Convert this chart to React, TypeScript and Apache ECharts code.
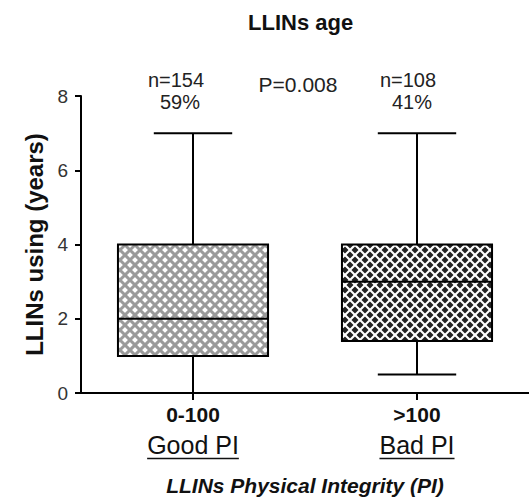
import React, { useEffect, useRef } from 'react';
import * as echarts from 'echarts';

const categories = ['0-100', '>100'];
const groupNames = ['Good PI', 'Bad PI'];
const whiskerLow = [0, 0.5];
const q1 = [1, 1.4];
const medians = [2, 3];
const q3 = [4, 4];
const whiskerHigh = [7, 7];
const countLabels = ['n=154', 'n=108'];
const shareLabels = ['59%', '41%'];
const pValueLabel = 'P=0.008';

const FONT = '"Liberation Sans", Arial, "DejaVu Sans", sans-serif';

const hatchStyles = [
  { bg: '#ffffff', line: '#9a9a9a', width: 3 },
  { bg: '#222222', line: '#ffffff', width: 2.1 },
];

export default function App() {
  const ref = useRef<HTMLDivElement>(null);

  useEffect(() => {
    if (!ref.current) return;
    const chart = echarts.init(ref.current, undefined, { renderer: 'svg' });

    const data = categories.map((_, i) => [i, whiskerLow[i], q1[i], medians[i], q3[i], whiskerHigh[i]]);

    const renderItem = (params: any, api: any) => {
      const idx = api.value(0);
      const lo = api.coord([idx, api.value(1)]);
      const b1 = api.coord([idx, api.value(2)]);
      const med = api.coord([idx, api.value(3)]);
      const b3 = api.coord([idx, api.value(4)]);
      const hi = api.coord([idx, api.value(5)]);
      const band = api.size([1, 0])[0];
      const bw = band * 0.67;
      const cw = band * 0.35;
      const cx = lo[0];
      const x0 = cx - bw / 2;
      const x1 = cx + bw / 2;
      const yTop = b3[1];
      const yBot = b1[1];
      const hs = hatchStyles[idx];
      const black = { stroke: '#000', lineWidth: 2 };
      const children: any[] = [];
      children.push({ type: 'rect', shape: { x: x0, y: yTop, width: bw, height: yBot - yTop }, style: { fill: hs.bg } });
      const step = 10;
      const hx0 = x0 + 0.5, hx1 = x1 - 0.5, hy0 = yTop + 0.5, hy1 = yBot - 0.5;
      for (let c = Math.floor((hy0 - hx1) / step) * step; c <= hy1 - hx0; c += step) {
        const xa = Math.max(hx0, hy0 - c);
        const xb = Math.min(hx1, hy1 - c);
        if (xb > xa) children.push({ type: 'line', shape: { x1: xa, y1: xa + c, x2: xb, y2: xb + c }, style: { stroke: hs.line, lineWidth: hs.width } });
      }
      for (let c = Math.floor((hy0 + hx0) / step) * step; c <= hy1 + hx1; c += step) {
        const xa = Math.max(hx0, c - hy1);
        const xb = Math.min(hx1, c - hy0);
        if (xb > xa) children.push({ type: 'line', shape: { x1: xa, y1: c - xa, x2: xb, y2: c - xb }, style: { stroke: hs.line, lineWidth: hs.width } });
      }
      children.push({ type: 'rect', shape: { x: x0, y: yTop, width: bw, height: yBot - yTop }, style: { fill: 'none', ...black } });
      children.push({ type: 'line', shape: { x1: x0, y1: med[1], x2: x1, y2: med[1] }, style: black });
      children.push({ type: 'line', shape: { x1: cx, y1: yTop, x2: cx, y2: hi[1] }, style: black });
      children.push({ type: 'line', shape: { x1: cx, y1: yBot, x2: cx, y2: lo[1] }, style: black });
      children.push({ type: 'line', shape: { x1: cx - cw / 2, y1: hi[1], x2: cx + cw / 2, y2: hi[1] }, style: black });
      children.push({ type: 'line', shape: { x1: cx - cw / 2, y1: lo[1], x2: cx + cw / 2, y2: lo[1] }, style: black });
      return { type: 'group', children };
    };

    const txt = (text: string, x: number, y: number, size: number) => ({
      type: 'text', x, y,
      style: { text, fontSize: size, fontFamily: FONT, fill: '#222', align: 'center', verticalAlign: 'middle', textAlign: 'center', textVerticalAlign: 'middle' },
    });

    const annotations: any[] = [
      txt(countLabels[0], 176, 80, 20),
      txt(shareLabels[0], 180, 102, 20),
      txt(countLabels[1], 408, 80, 20),
      txt(shareLabels[1], 412, 102, 20),
      txt(pValueLabel, 298, 84, 21),
    ];

    chart.setOption({
      animation: false,
      title: {
        text: 'LLINs age',
        left: 243,
        top: 6,
        textStyle: { fontSize: 22, fontWeight: 'bold', fontFamily: FONT, color: '#111' },
      },
      grid: { left: 81, right: 0, top: 96, bottom: 105, containLabel: false },
      xAxis: {
        type: 'category',
        data: categories,
        name: 'LLINs Physical Integrity (PI)',
        nameLocation: 'middle',
        nameGap: 82,
        nameTextStyle: { fontSize: 21, fontWeight: 'bold', fontStyle: 'italic', fontFamily: FONT, color: '#111', verticalAlign: 'top' },
        axisLine: { show: true, lineStyle: { color: '#000', width: 2 } },
        axisTick: { show: true, alignWithLabel: true, length: 7, lineStyle: { color: '#000', width: 2 } },
        axisLabel: {
          margin: 9,
          formatter: (v: string, i: number) => `{a|${v}}\n{b|${groupNames[i]}}`,
          rich: {
            a: { fontSize: 21, fontWeight: 'bold', fontFamily: FONT, color: '#111', lineHeight: 24 },
            b: { fontSize: 25, fontFamily: FONT, color: '#111', lineHeight: 38 },
          },
        },
        splitLine: { show: false },
      },
      yAxis: {
        type: 'value',
        min: 0,
        max: 8,
        interval: 2,
        name: 'LLINs using (years)',
        nameLocation: 'middle',
        nameGap: 31,
        nameTextStyle: { fontSize: 24, fontWeight: 'bold', fontFamily: FONT, color: '#111' },
        axisLine: { show: true, lineStyle: { color: '#000', width: 2 } },
        axisTick: { show: true, length: 6, lineStyle: { color: '#000', width: 2 } },
        axisLabel: { fontSize: 19, fontFamily: FONT, color: '#333', margin: 13 },
        splitLine: { show: false },
      },
      graphic: annotations,
      series: [
        {
          type: 'custom',
          renderItem,
          data,
          encode: { x: 0, y: [1, 2, 3, 4, 5] },
          clip: false,
        },
      ],
    });

    // underline the group names under the axis labels
    const canvas = document.createElement('canvas');
    const ctx = canvas.getContext('2d');
    const underlines: any[] = [];
    if (ctx) {
      ctx.font = `25px ${FONT}`;
      categories.forEach((c, i) => {
        const px = chart.convertToPixel({ xAxisIndex: 0 }, c) as number;
        const w = ctx.measureText(groupNames[i]).width;
        underlines.push({
          type: 'line',
          shape: { x1: px - w / 2, y1: 458.5, x2: px + w / 2, y2: 458.5 },
          style: { stroke: '#111', lineWidth: 1.5 },
        });
      });
    }
    chart.setOption({ graphic: [...annotations, ...underlines] });

    return () => chart.dispose();
  }, []);

  return <div ref={ref} style={{ position: 'absolute', left: 0, top: 0, width: 529, height: 501 }} />;
}
